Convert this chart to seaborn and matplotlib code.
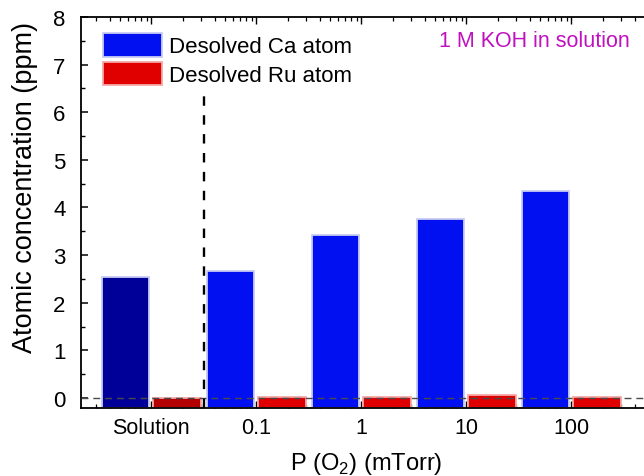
import matplotlib
matplotlib.use("Agg")
import matplotlib.pyplot as plt
from matplotlib.patches import Patch
from matplotlib.ticker import LogLocator, NullFormatter, MultipleLocator
import numpy as np
import pandas as pd
import seaborn as sns

# Dissolved-atom concentrations (ppm) for the bare solution and films grown at each O2 pressure
categories = ["Solution", "0.1", "1", "10", "100"]
ca_ppm = [2.53, 2.67, 3.43, 3.76, 4.35]
ru_ppm = [0.0, 0.01, 0.01, 0.07, 0.01]
series = ["Desolved Ca atom", "Desolved Ru atom"]

plt.rcParams["font.family"] = ["Liberation Sans", "DejaVu Sans"]
plt.rcParams["mathtext.fontset"] = "custom"
plt.rcParams["mathtext.rm"] = "Liberation Sans"
plt.rcParams["text.color"] = "black"

df = pd.DataFrame({
    "condition": categories * 2,
    "species": [series[0]] * len(categories) + [series[1]] * len(categories),
    "ppm": ca_ppm + ru_ppm,
})

palette = {series[0]: "#0010f0", series[1]: "#e00000"}
solution_colors = {series[0]: "#000099", series[1]: "#b40000"}
edge_colors = {series[0]: "#c8ccf2", series[1]: "#f4a8a8"}

fig = plt.figure(figsize=(6.44, 4.77), dpi=100)
ax = fig.add_axes([81 / 644, (477 - 408.5) / 477, 563 / 644, 390.5 / 477])

ymin = -0.2
sns.barplot(data=df, x="condition", y="ppm", hue="species", order=categories,
            hue_order=series, palette=palette, saturation=1, width=0.984, gap=0.08,
            errorbar=None, legend=False, ax=ax, linewidth=1.3)

# bars rise from the bottom of the frame; first group (bare solution) in darker shades
for name, cont in zip(series, ax.containers):
    for i, (bar, val) in enumerate(zip(cont.patches, cont.datavalues)):
        bar.set_y(ymin)
        bar.set_height(val - ymin)
        bar.set_edgecolor(edge_colors[name])
        if i == 0:
            bar.set_facecolor(solution_colors[name])

xlim = (-0.67, 4.692)
ax.set_xlim(*xlim)
ax.set_ylim(ymin, 8)

# zero reference and separator between solution and films
ax.axhline(0, color="#4a4a4a", lw=1.0, ls=(0, (5, 3.5)), zorder=5)
ax.vlines(0.5, ymin, 6.4, color="black", lw=1.7, linestyles=[(0, (4, 4))], zorder=5)

ax.set_xticks(range(len(categories)))
ax.set_xticklabels(categories, fontsize=15.5)
ax.tick_params(axis="x", length=0, pad=7, colors="black")
ax.yaxis.set_major_locator(MultipleLocator(1))
ax.yaxis.set_minor_locator(MultipleLocator(0.5))
ax.tick_params(axis="y", which="major", direction="in", length=5, width=1.1,
               labelsize=16, pad=11, left=True, right=False, colors="black")
ax.tick_params(axis="y", which="minor", direction="in", length=3, width=1.0,
               left=True, right=False, colors="black")
ax.set_xlabel("")
ax.set_ylabel("")

for side in ["left", "bottom", "top"]:
    ax.spines[side].set_color("black")
    ax.spines[side].set_linewidth(1.3)
ax.spines["right"].set_visible(False)

# logarithmic pressure scale behind the bars (one decade per group)
ax2 = ax.twiny()
ax2.set_xscale("log")
ax2.set_xlim(10 ** (xlim[0] - 2), 10 ** (xlim[1] - 2))
ax2.xaxis.set_major_locator(LogLocator(base=10, numticks=20))
ax2.xaxis.set_minor_locator(LogLocator(base=10, subs=tuple(np.arange(2, 10)), numticks=20))
ax2.xaxis.set_major_formatter(NullFormatter())
ax2.xaxis.set_minor_formatter(NullFormatter())
ax2.tick_params(axis="x", which="major", direction="in", length=5, width=1.0,
                top=True, bottom=True, labeltop=False, labelbottom=False, colors="black")
ax2.tick_params(axis="x", which="minor", direction="in", length=3, width=0.9,
                top=True, bottom=True, labeltop=False, labelbottom=False, colors="black")
ax2.tick_params(axis="y", which="both", left=False, right=False,
                labelleft=False, labelright=False)
for s in ax2.spines.values():
    s.set_visible(False)
ax.set_zorder(ax2.get_zorder() + 1)
ax.patch.set_visible(False)

handles = [Patch(facecolor=palette[s], edgecolor=edge_colors[s], linewidth=1.3, label=s)
           for s in series]
ax.legend(handles=handles, loc="upper left",
          bbox_to_anchor=((103 - 81) / 563, (408.5 - 34) / 390.5),
          frameon=False, fontsize=16, handlelength=2.65, handleheight=1.25,
          labelspacing=0.2, handletextpad=0.3, borderpad=0, borderaxespad=0)

ax.text((630 - 81) / 563, (408.5 - 47) / 390.5, "1 M KOH in solution",
        transform=ax.transAxes, ha="right", va="baseline", fontsize=15.5,
        color="#c010c0")

fig.text(366 / 644, 1 - 470 / 477, r"P (O$_2$) (mTorr)", ha="center",
         va="baseline", fontsize=17)
fig.text(25 / 644, 1 - 188 / 477, "Atomic concentration (ppm)", rotation=90,
         ha="center", va="center", fontsize=19.5)

fig.savefig("out.png", dpi=100)
